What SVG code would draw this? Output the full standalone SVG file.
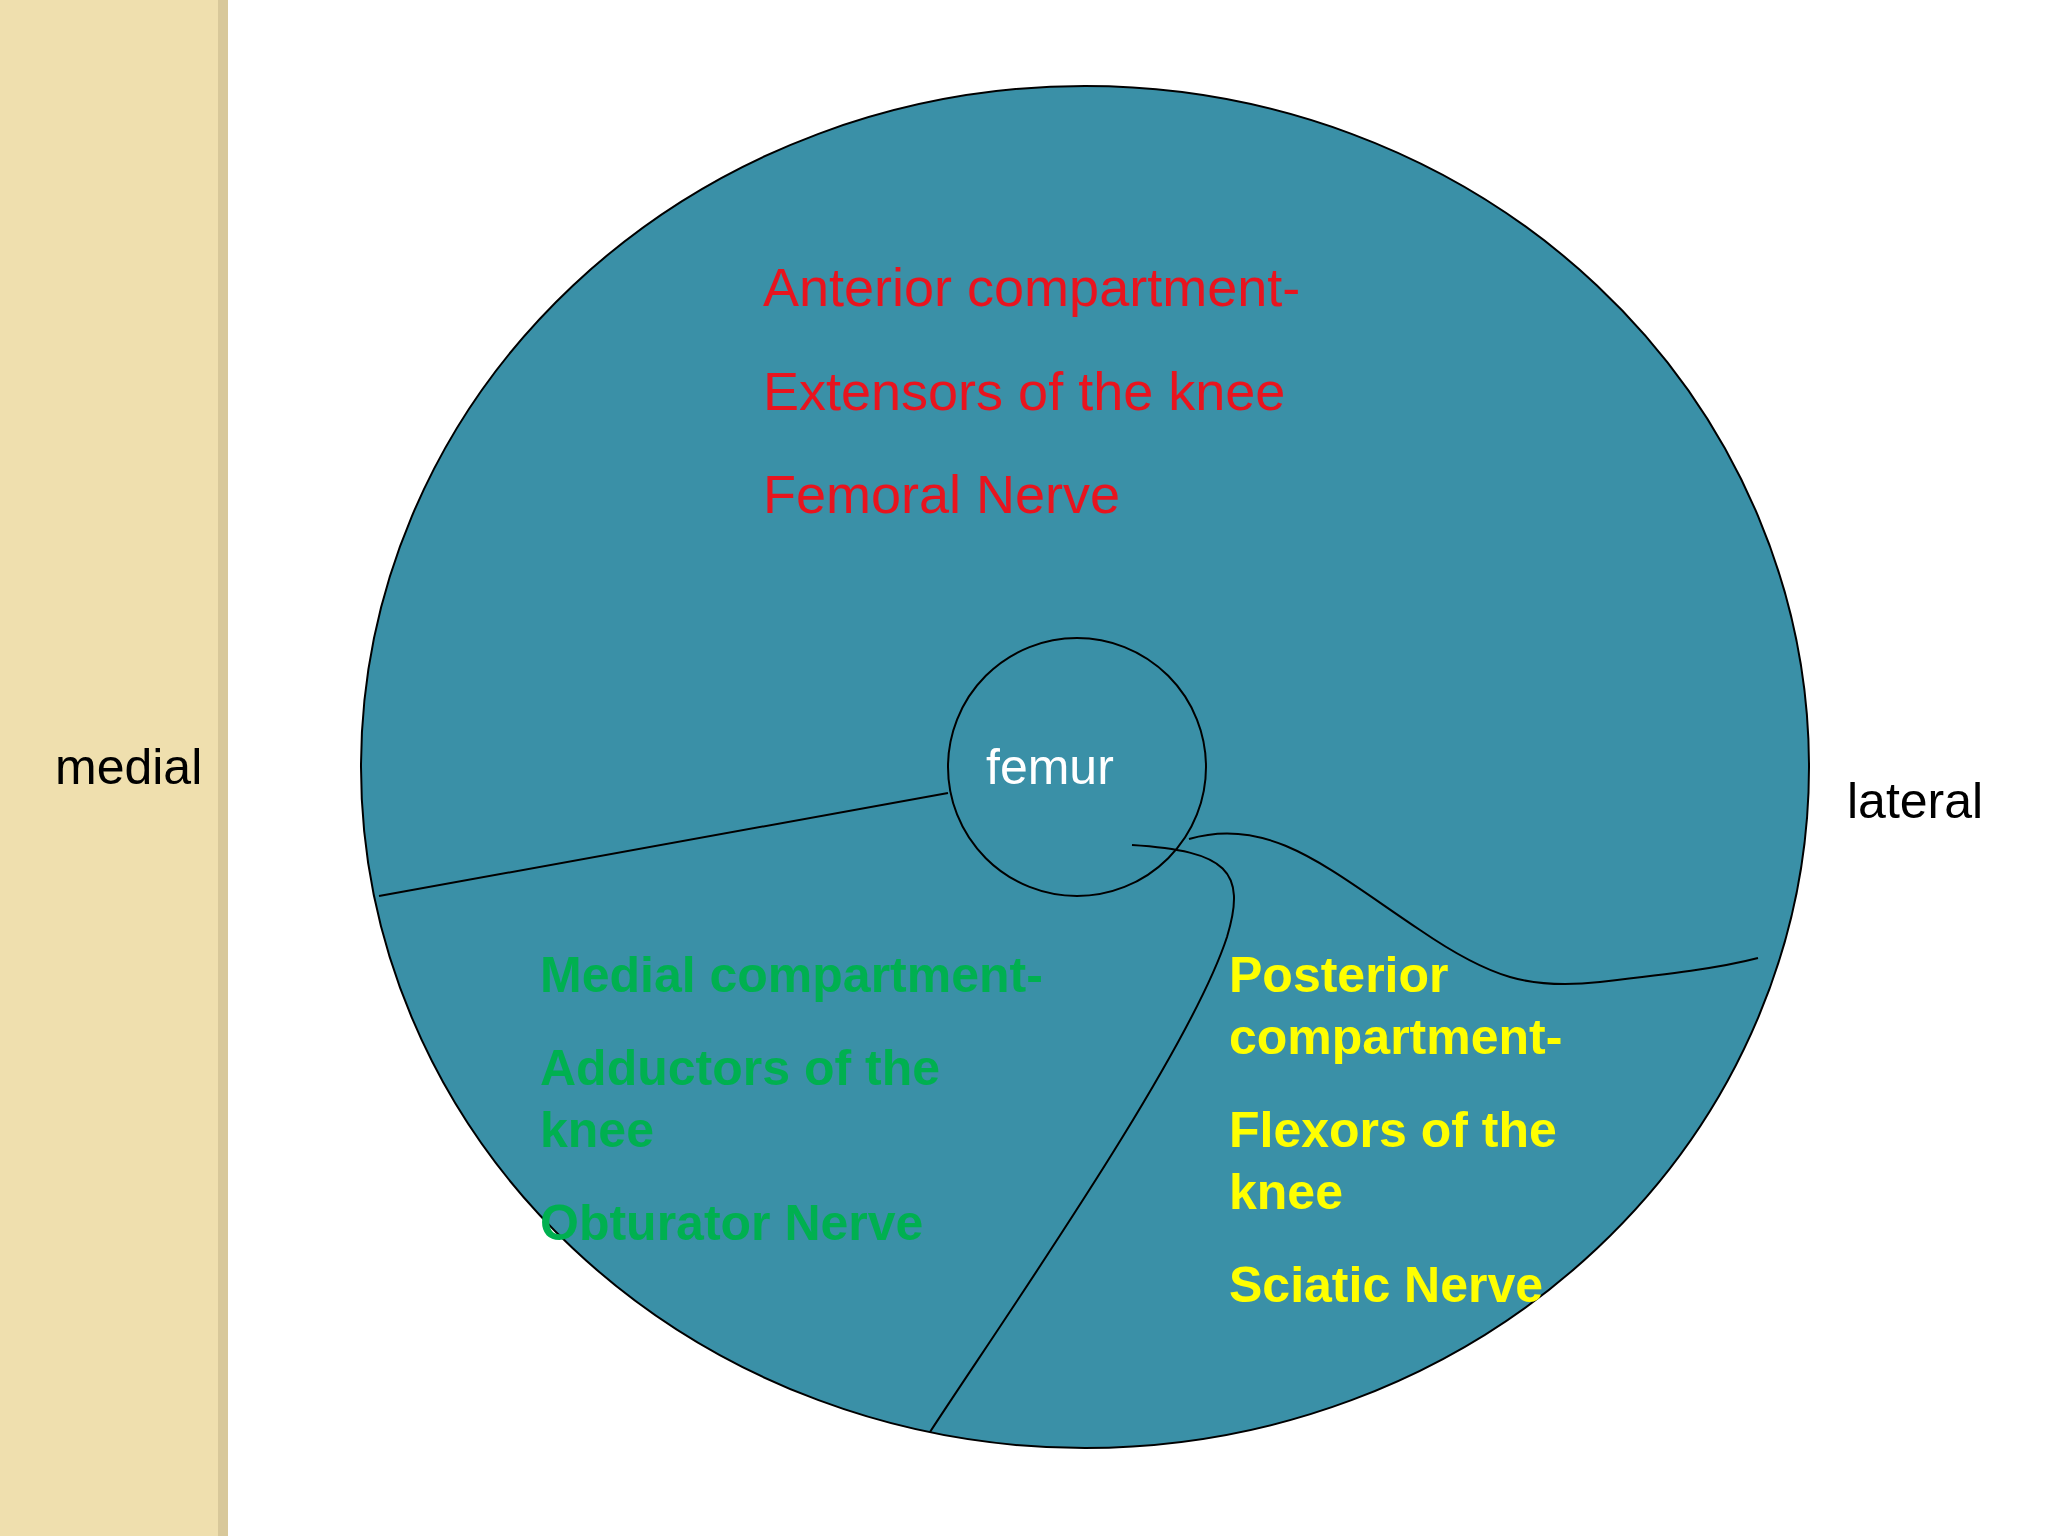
<svg xmlns="http://www.w3.org/2000/svg" width="2048" height="1536" viewBox="0 0 2048 1536">
<style>
.ln{fill:none;stroke:#000;stroke-width:2}
.t{font-family:"Liberation Sans",Arial,sans-serif}
.red{fill:#e8141e;font-size:54px}
.grn{fill:#00b050;font-size:50px;font-weight:bold}
.yel{fill:#ffff00;font-size:50px;font-weight:bold}
</style>
<rect width="2048" height="1536" fill="#fff"/>
<rect x="0" y="0" width="222" height="1536" fill="#efdfae"/>
<rect x="218" y="0" width="10" height="1536" fill="#d8c89a"/>
<g id="thigh"><ellipse cx="1085" cy="767" rx="724" ry="681" fill="#3a90a7" stroke="#000" stroke-width="2"/></g>
<g id="femur"><circle cx="1077" cy="767" r="129" fill="none" stroke="#000" stroke-width="2"/>
<text class="t" x="986" y="784" font-size="50" fill="#fff">femur</text></g>
<g id="septa">
<line class="ln" x1="379" y1="896" x2="948" y2="793"/>
<path class="ln" d="M1132,845 C1227,851 1247,871 1227,937 C1188,1056 1003,1320 930,1432"/>
<path class="ln" d="M1189,839 C1270,815 1330,870 1420,930 C1490,978 1530,990 1600,982 S1720,968 1758,958"/>
</g>
<g id="anterior" class="t red">
<text x="763" y="306">Anterior compartment-</text>
<text x="763" y="410">Extensors of the knee</text>
<text x="763" y="513">Femoral Nerve</text>
</g>
<g id="medial-comp" class="t grn">
<text x="540" y="992">Medial compartment-</text>
<text x="540" y="1085">Adductors of the</text>
<text x="540" y="1147">knee</text>
<text x="540" y="1240">Obturator Nerve</text>
</g>
<g id="posterior" class="t yel">
<text x="1229" y="992">Posterior</text>
<text x="1229" y="1054">compartment-</text>
<text x="1229" y="1147">Flexors of the</text>
<text x="1229" y="1209">knee</text>
<text x="1229" y="1302">Sciatic Nerve</text>
</g>
<text class="t" x="55" y="784" font-size="50" fill="#000">medial</text>
<text class="t" x="1847" y="818" font-size="50" fill="#000">lateral</text>
</svg>
